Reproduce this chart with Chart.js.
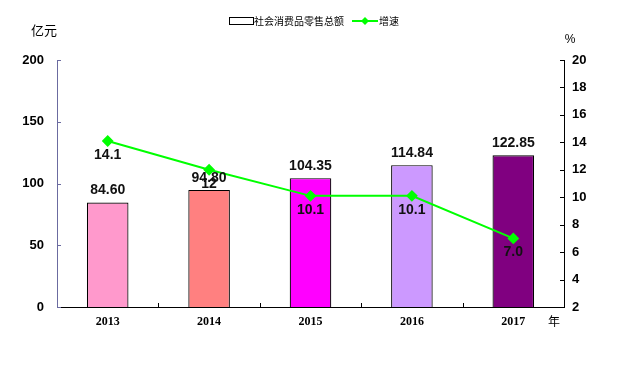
<!DOCTYPE html>
<html>
<head>
<meta charset="utf-8">
<script src="https://cdn.jsdelivr.net/npm/chart.js@4.4.0/dist/chart.umd.min.js"></script>
<style>
  html, body { margin: 0; padding: 0; background: #fff; }
  #wrap { width: 637px; height: 386px; position: relative; }
</style>
</head>
<body>
<div id="wrap"><canvas id="myChart" width="637" height="386"></canvas></div>
<script>
var years = ["2013", "2014", "2015", "2016", "2017"];
var sales = [84.60, 94.80, 104.35, 114.84, 122.85];
var salesLabels = ["84.60", "94.80", "104.35", "114.84", "122.85"];
var growth = [14.1, 12, 10.1, 10.1, 7.0];
var growthLabels = ["14.1", "12", "10.1", "10.1", "7.0"];
var barColors = ["#FF99CC", "#FF8080", "#FF00FF", "#CC99FF", "#800080"];
var leftTicks = [0, 50, 100, 150, 200];
var rightTicks = [2, 4, 6, 8, 10, 12, 14, 16, 18, 20];

var fontSans = "Arial, 'Liberation Sans', sans-serif";
var fontCJK = "'Noto Sans CJK SC', sans-serif";

// labels, inward ticks, axis titles and legend
var extras = {
  id: "extras",
  afterDatasetsDraw: function (chart) {
    var ctx = chart.ctx;
    var x = chart.scales.x, yl = chart.scales.y, yr = chart.scales.y1;
    var area = chart.chartArea;
    ctx.save();

    // inward ticks
    ctx.lineWidth = 1;
    ctx.strokeStyle = "#6B6BA0";
    leftTicks.forEach(function (v) {
      var py = Math.round(yl.getPixelForValue(v)) + 0.5;
      ctx.beginPath(); ctx.moveTo(area.left, py); ctx.lineTo(area.left + 4, py); ctx.stroke();
    });
    ctx.strokeStyle = "#000";
    rightTicks.forEach(function (v) {
      var py = Math.round(yr.getPixelForValue(v)) + 0.5;
      ctx.beginPath(); ctx.moveTo(area.right, py); ctx.lineTo(area.right - 4, py); ctx.stroke();
    });
    for (var i = 1; i < years.length; i++) {
      var px = Math.round((x.getPixelForValue(i - 1) + x.getPixelForValue(i)) / 2) + 0.5;
      ctx.beginPath(); ctx.moveTo(px, area.bottom); ctx.lineTo(px, area.bottom - 4); ctx.stroke();
    }

    // value labels
    ctx.fillStyle = "#111";
    ctx.font = "bold 14px " + fontSans;
    ctx.textAlign = "center";
    ctx.textBaseline = "middle";
    chart.getDatasetMeta(1).data.forEach(function (bar, i) {
      ctx.fillText(salesLabels[i], bar.x, bar.y - 12);
    });
    chart.getDatasetMeta(0).data.forEach(function (pt, i) {
      ctx.fillText(growthLabels[i], pt.x, pt.y + 14);
    });

    // axis titles
    ctx.font = "13px " + fontCJK;
    ctx.fillStyle = "#000";
    ctx.fillText("亿元", 44, 30);
    ctx.font = "12px " + fontSans;
    ctx.fillText("%", 570, 40);
    ctx.font = "12px " + fontCJK;
    ctx.fillText("年", 554, 321);

    // legend
    var lx = 229, ly = 21;
    ctx.fillStyle = "#fff";
    ctx.strokeStyle = "#000";
    ctx.lineWidth = 1;
    ctx.fillRect(lx + 0.5, ly - 3.5, 24, 7);
    ctx.strokeRect(lx + 0.5, ly - 3.5, 24, 7);
    ctx.font = "10px " + fontCJK;
    ctx.fillStyle = "#000";
    ctx.textAlign = "left";
    ctx.fillText("社会消费品零售总额", lx + 25, ly);
    var gx = 352;
    ctx.strokeStyle = "#00FF00";
    ctx.lineWidth = 2;
    ctx.beginPath(); ctx.moveTo(gx, ly); ctx.lineTo(gx + 26, ly); ctx.stroke();
    ctx.fillStyle = "#00FF00";
    ctx.beginPath();
    ctx.moveTo(gx + 13, ly - 4); ctx.lineTo(gx + 17, ly); ctx.lineTo(gx + 13, ly + 4); ctx.lineTo(gx + 9, ly);
    ctx.closePath(); ctx.fill();
    ctx.fillStyle = "#000";
    ctx.fillText("增速", gx + 27, ly);
    ctx.restore();
  }
};

new Chart("myChart", {
  data: {
    labels: years,
    datasets: [
      {
        type: "line",
        label: "增速",
        data: growth,
        yAxisID: "y1",
        borderColor: "#00FF00",
        backgroundColor: "#00FF00",
        borderWidth: 2,
        pointStyle: "rectRot",
        pointRadius: 4.5,
        pointHoverRadius: 4.5,
        tension: 0,
        order: 0
      },
      {
        type: "bar",
        label: "社会消费品零售总额",
        data: sales,
        yAxisID: "y",
        backgroundColor: barColors,
        borderColor: "#000",
        borderWidth: 1.2,
        borderSkipped: "bottom",
        categoryPercentage: 1,
        barPercentage: 0.41,
        order: 1
      }
    ]
  },
  options: {
    responsive: false,
    animation: false,
    events: [],
    layout: { padding: { top: 60, left: 0, right: 0, bottom: 0 } },
    plugins: { legend: { display: false }, tooltip: { enabled: false } },
    scales: {
      x: {
        offset: true,
        grid: { display: false, drawTicks: false },
        border: { display: true, color: "#000", width: 1 },
        ticks: {
          color: "#000",
          padding: 8,
          font: { family: "'Liberation Serif', 'Times New Roman', serif", size: 12, weight: "bold" }
        },
        afterFit: function (s) { s.height = 79; }
      },
      y: {
        position: "left",
        min: 0, max: 200,
        afterBuildTicks: function (s) { s.ticks = leftTicks.map(function (v) { return { value: v }; }); },
        grid: { display: false, drawTicks: false },
        border: { display: true, color: "#6B6BA0", width: 1 },
        ticks: {
          color: "#000",
          padding: 13,
          font: { family: fontSans, size: 13, weight: "bold" }
        },
        afterFit: function (s) { s.width = 57; }
      },
      y1: {
        position: "right",
        min: 2, max: 20,
        afterBuildTicks: function (s) { s.ticks = rightTicks.map(function (v) { return { value: v }; }); },
        grid: { display: false, drawTicks: false },
        border: { display: true, color: "#000", width: 1 },
        ticks: {
          color: "#000",
          padding: 8,
          font: { family: fontSans, size: 13, weight: "bold" }
        },
        afterFit: function (s) { s.width = 73; }
      }
    }
  },
  plugins: [extras]
});
</script>
</body>
</html>
